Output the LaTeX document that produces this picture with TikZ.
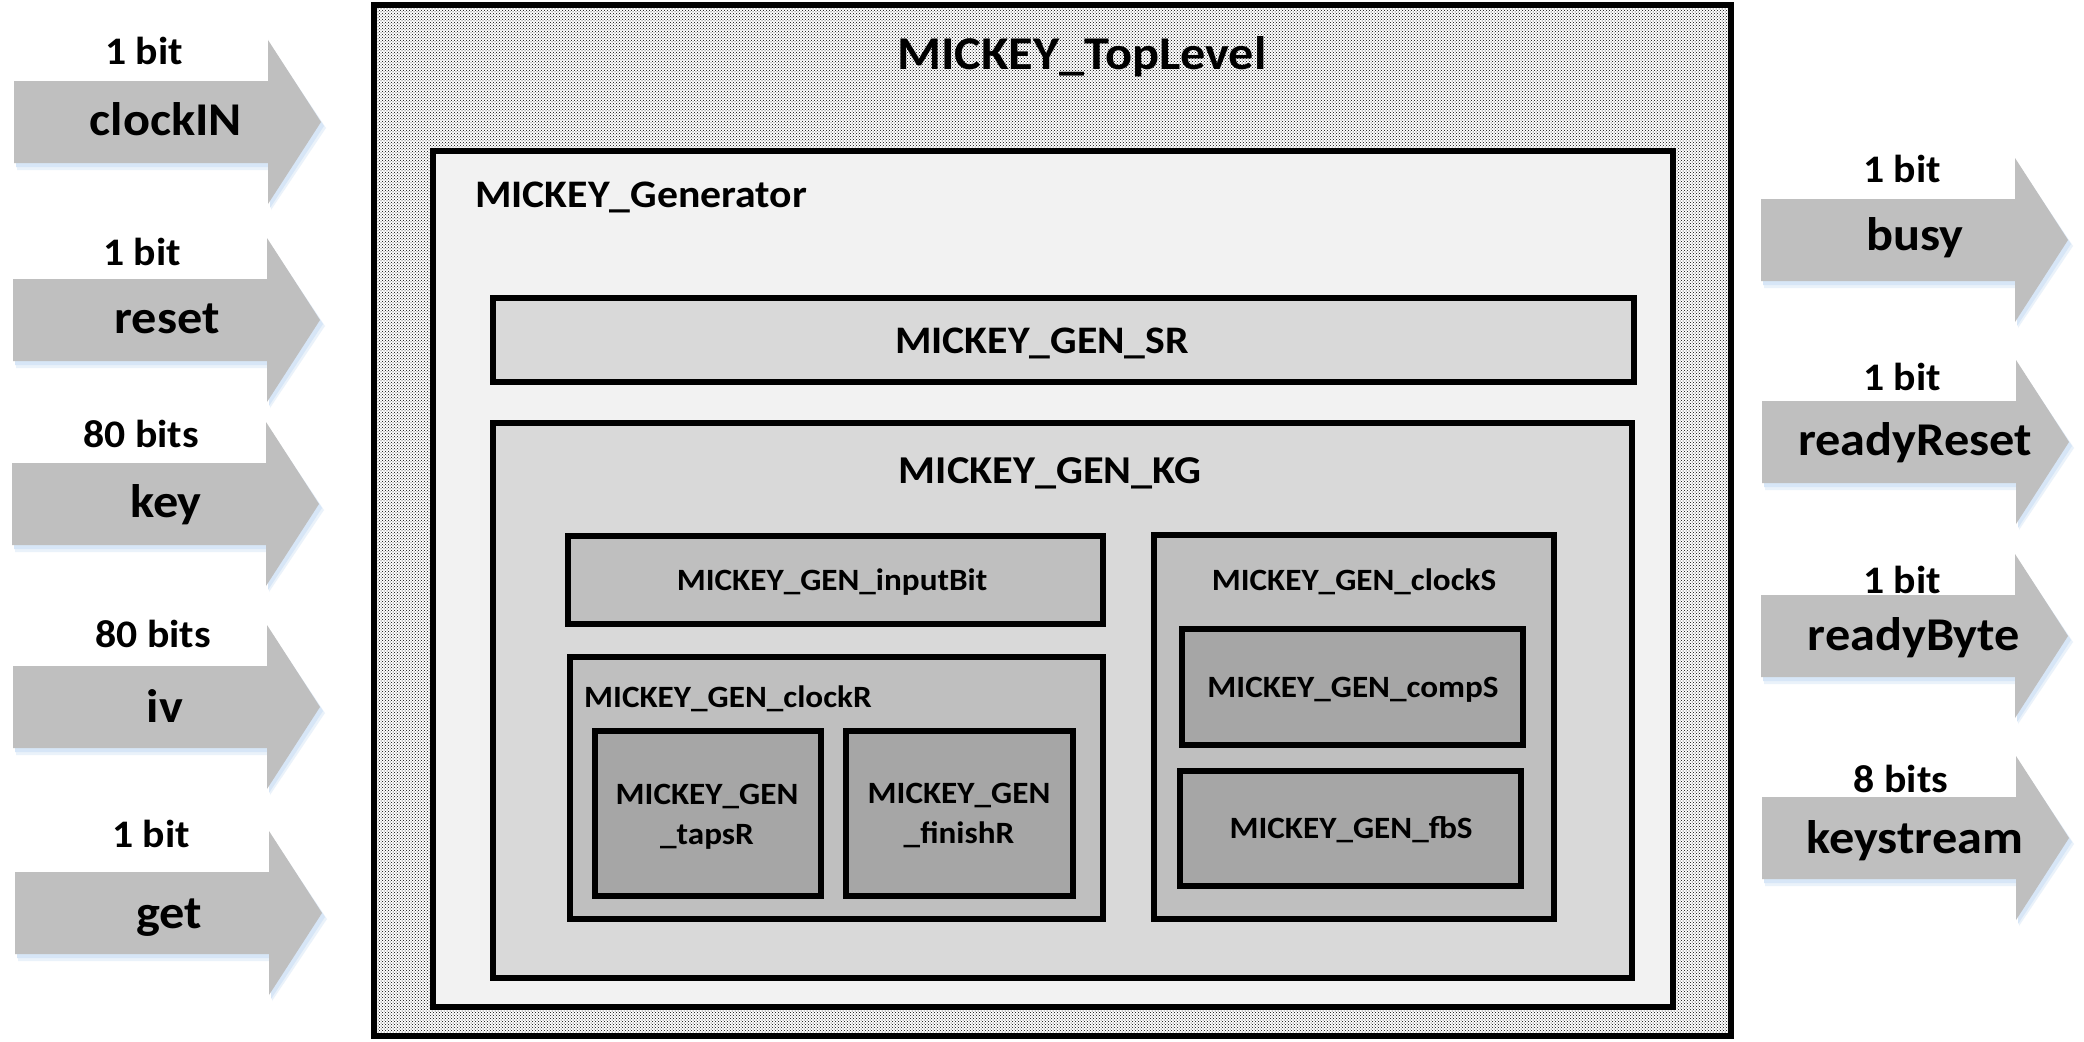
\documentclass[tikz,border=0pt]{standalone}
\usepackage{fontspec}
\setmainfont{Carlito}[FakeStretch=1.07]
\usetikzlibrary{patterns,calc}
\definecolor{arrowgray}{HTML}{BFBFBF}
\definecolor{arrowshadow}{RGB}{215,230,247}
\definecolor{genfill}{HTML}{F2F2F2}
\definecolor{lvlone}{HTML}{D9D9D9}
\definecolor{lvltwo}{HTML}{BFBFBF}
\definecolor{lvlthree}{HTML}{A6A6A6}
\newcommand\portarrow[3]{%
  \begin{scope}[shift={(#2,#3)}]
    \fill[arrowshadow, opacity=0.5] (3,-35) -- (257,-35) -- (257,-76) -- (312,6) -- (257,88) -- (257,48) -- (3,48) -- cycle;
    \fill[arrowshadow] (2,-37) -- (256,-37) -- (256,-78) -- (310,4) -- (256,86) -- (256,45) -- (2,45) -- cycle;
    \fill[arrowgray] (0,-41) -- (254,-41) -- (254,-82) -- (307,0) -- (254,82) -- (254,41) -- (0,41) -- cycle;
  \end{scope}
  \coordinate (#1) at (#2,#3);
}
\newcommand\blk[6]{%
  \node[#6, minimum width={(#4-#2)*1pt}, minimum height={(#5-#3)*1pt}] (#1) at ({(#2+#4)/2},{(#3+#5)/2}) {};
}
\tikzset{
  boxline/.style={draw=black, line width=5.5pt, inner sep=0pt, outer sep=0pt},
  toplvl/.style={boxline, pattern=crosshatch dots, pattern color=black},
  genbox/.style={boxline, fill=genfill},
  onebox/.style={boxline, fill=lvlone},
  twobox/.style={boxline, fill=lvltwo},
  threebox/.style={boxline, fill=lvlthree},
  portlbl/.style={inner sep=0pt, anchor=base, font=\fontsize{47}{56}\selectfont\bfseries},
  bitlbl/.style={inner sep=0pt, anchor=base, font=\fontsize{39}{46}\selectfont\bfseries},
  bigtitle/.style={inner sep=0pt, anchor=base, font=\fontsize{47}{54}\selectfont\bfseries},
  midtitle/.style={inner sep=0pt, anchor=base, font=\fontsize{39}{46}\selectfont\bfseries},
  smalltitle/.style={inner sep=0pt, anchor=base, font=\fontsize{31}{40}\selectfont\bfseries},
}
\begin{document}
\begin{tikzpicture}[x=1pt,y=-1pt]
\useasboundingbox (0,0) rectangle (2084,1041);
\fill[white] (0,0) rectangle (2084,1041);

% input arrows
\portarrow{aclk}{14}{122}
\portarrow{arst}{13}{320}
\portarrow{akey}{12}{504}
\portarrow{aiv}{13}{707}
\portarrow{aget}{15}{913}
% output arrows
\portarrow{abusy}{1761}{240}
\portarrow{arr}{1762}{442}
\portarrow{arb}{1761}{636}
\portarrow{aks}{1762}{838}

\node[bitlbl] (bclk) at (144,65) {1 bit};
\node[portlbl] (lclk) at (166,135) {clockIN};
\node[bitlbl] (brst) at (142,265) {1 bit};
\node[portlbl] (lrst) at (167,333) {reset};
\node[bitlbl] (bkey) at (141,447) {80 bits};
\node[portlbl] (lkey) at (166,517) {key};
\node[bitlbl] (biv) at (153,647) {80 bits};
\node[portlbl] (liv) at (165,722) {iv};
\node[bitlbl] (bget) at (151,847) {1 bit};
\node[portlbl] (lget) at (169,928) {get};

\node[bitlbl] (bbusy) at (1902,182) {1 bit};
\node[portlbl] (lbusy) at (1915,250) {busy};
\node[bitlbl] (brr) at (1902,390) {1 bit};
\node[portlbl] (lrr) at (1915,455) {readyReset};
\node[bitlbl] (brb) at (1902,593) {1 bit};
\node[portlbl] (lrb) at (1914,650) {readyByte};
\node[bitlbl] (bks) at (1901,792) {8 bits};
\node[portlbl] (lks) at (1915,853) {keystream};

% blocks
\blk{top}{374}{5}{1731}{1036}{toplvl}
\blk{gen}{433}{151}{1673}{1007}{genbox}
\blk{sr}{493}{298}{1634}{382}{onebox}
\blk{kg}{493}{423}{1632}{978}{onebox}
\blk{inbit}{568}{536}{1103}{624}{twobox}
\blk{clkr}{570}{657}{1103}{919}{twobox}
\blk{taps}{595}{731}{821}{896}{threebox}
\blk{fin}{846}{731}{1073}{896}{threebox}
\blk{clks}{1154}{535}{1554}{919}{twobox}
\blk{comp}{1182}{629}{1523}{745}{threebox}
\blk{fbs}{1180}{771}{1521}{886}{threebox}

\node[bigtitle] (ttop) at (1082,70) {MICKEY\_TopLevel};
\node[midtitle, anchor=base west] (tgen) at (475,207) {MICKEY\_Generator};
\node[midtitle] (tsr) at (1042,353) {MICKEY\_GEN\_SR};
\node[midtitle, font=\fontsize{39.5}{46}\selectfont\bfseries] (tkg) at (1050,483) {MICKEY\_GEN\_KG};
\node[smalltitle] (tinbit) at (832,590) {MICKEY\_GEN\_inputBit};
\node[smalltitle, anchor=base west] (tclkr) at (584,707) {MICKEY\_GEN\_clockR};
\node[smalltitle, anchor=center, align=center] (ttaps) at (707,817) {MICKEY\_GEN\\\_tapsR};
\node[smalltitle, anchor=center, align=center] (tfin) at (959,815) {MICKEY\_GEN\\\_finishR};
\node[smalltitle] (tclks) at (1354,590) {MICKEY\_GEN\_clockS};
\node[smalltitle] (tcomp) at (1353,697) {MICKEY\_GEN\_compS};
\node[smalltitle] (tfbs) at (1351,838) {MICKEY\_GEN\_fbS};
\end{tikzpicture}
\end{document}
